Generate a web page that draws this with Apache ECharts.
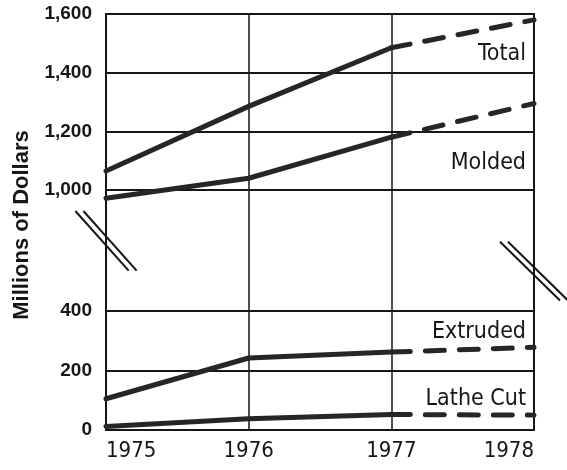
<!DOCTYPE html>
<html>
<head>
<meta charset="utf-8">
<script src="https://cdn.jsdelivr.net/npm/echarts@6/dist/echarts.min.js"></script>
<style>
  html, body { margin: 0; padding: 0; background: #ffffff; }
  #chart { width: 567px; height: 470px; }
</style>
</head>
<body>
<div id="chart"></div>
<script>
// ---- data ----
const years = ['1975', '1976', '1977', '1978'];
const totalVals = [1065, 1285, 1485, 1580];
const moldedVals = [972, 1040, 1180, 1295];
const extrudedVals = [105, 242, 262, 278];
const latheVals = [12, 38, 52, 50];
const topTicks = [1000, 1200, 1400, 1600];
const bottomTicks = [0, 200, 400];
const seriesNames = ['Total', 'Molded', 'Extruded', 'Lathe Cut'];
const yTitle = 'Millions of Dollars';
const lastActualIndex = 2; // 1977: solid up to here, dashed beyond

// ---- layout / style ----
const INK = '#161616';
const LINE = '#262626';
const gridL = 106, gridR = 33;
const COND = '"DejaVu Sans Condensed", "Liberation Sans", sans-serif';
const SANS = '"Liberation Sans", Arial, sans-serif';

function solidPart(v) { return v.map((x, i) => (i <= lastActualIndex ? x : null)); }
function dashPart(v) { return v.map((x, i) => (i >= lastActualIndex ? x : null)); }
function fmt(v) { return String(v).replace(/\B(?=(\d{3})+(?!\d))/g, ','); }

const chart = echarts.init(document.getElementById('chart'), null, { renderer: 'canvas' });

const gridBase = { left: gridL, right: gridR, show: true, borderColor: INK, borderWidth: 2, backgroundColor: 'transparent' };

function xAx(gi, showLabels) {
  return {
    type: 'category', gridIndex: gi, data: years, boundaryGap: false,
    axisLine: { show: false }, axisTick: { show: false },
    axisLabel: {
      show: showLabels, color: INK, fontFamily: COND, fontSize: 22, margin: 10,
      alignMinLabel: 'left', alignMaxLabel: 'right'
    },
    splitLine: { show: true, lineStyle: { color: INK, width: 1.5 } }
  };
}
function yAx(gi, ticks) {
  return {
    type: 'value', gridIndex: gi, min: ticks[0], max: ticks[ticks.length - 1],
    interval: ticks[1] - ticks[0],
    axisLine: { show: false }, axisTick: { show: false },
    axisLabel: { color: INK, fontFamily: SANS, fontWeight: 'bold', fontSize: 19, margin: 14, formatter: fmt },
    splitLine: { show: true, lineStyle: { color: INK, width: 2 } }
  };
}

function makeSeries(vals, gi) {
  const base = { type: 'line', xAxisIndex: gi, yAxisIndex: gi, symbol: 'none', silent: true, connectNulls: false, clip: false, z: 5 };
  return [
    Object.assign({}, base, { data: solidPart(vals), lineStyle: { color: LINE, width: 5, cap: 'round', join: 'round' } }),
    Object.assign({}, base, { data: dashPart(vals), lineStyle: { color: LINE, width: 5, type: [19, 15], cap: 'round' } })
  ];
}

const option = {
  animation: false,
  backgroundColor: '#ffffff',
  grid: [
    Object.assign({}, gridBase, { top: 14, height: 176 }),
    Object.assign({}, gridBase, { top: 190, height: 121 }),
    Object.assign({}, gridBase, { top: 311, height: 119 })
  ],
  xAxis: [xAx(0, false), xAx(1, false), xAx(2, true)],
  yAxis: [
    yAx(0, topTicks),
    { type: 'value', gridIndex: 1, min: 0, max: 1, show: false },
    yAx(2, bottomTicks)
  ],
  series: [].concat(
    makeSeries(totalVals, 0),
    makeSeries(moldedVals, 0),
    makeSeries(extrudedVals, 2),
    makeSeries(latheVals, 2)
  )
};
chart.setOption(option);

// ---- decorations anchored to the axes: series labels, axis break marks, y title ----
const labelAnchors = [ [0, 1465], [0, 1093], [2, 328], [2, 103] ];
const leftX = chart.convertToPixel({ gridIndex: 0 }, [years[0], topTicks[0]])[0];
const rightX = chart.convertToPixel({ gridIndex: 0 }, [years[years.length - 1], topTicks[0]])[0];
const gapTop = chart.convertToPixel({ gridIndex: 0 }, [years[0], topTicks[0]])[1];
const gapBot = chart.convertToPixel({ gridIndex: 2 }, [years[0], bottomTicks[bottomTicks.length - 1]])[1];

const graphics = [];
seriesNames.forEach((name, i) => {
  const a = labelAnchors[i];
  const y = chart.convertToPixel({ gridIndex: a[0] }, [years[0], a[1]])[1];
  graphics.push({
    type: 'text', x: rightX - 8, y: y, z: 10,
    style: { text: name, fill: INK, font: '23px ' + COND, align: 'right', verticalAlign: 'middle' }
  });
});

function breakMark(cx, cy, half, slope) {
  const len = Math.sqrt(1 + slope * slope);
  const dx = half / len, dy = half * slope / len;
  [-4, 4].forEach(off => {
    graphics.push({
      type: 'line', z: 10,
      shape: { x1: cx - dx + off, y1: cy - dy, x2: cx + dx + off, y2: cy + dy },
      style: { stroke: INK, lineWidth: 2 }
    });
  });
}
breakMark(leftX, gapTop + 0.42 * (gapBot - gapTop), 40, 1.12);
breakMark(rightX, gapTop + 0.67 * (gapBot - gapTop), 42, 0.98);

graphics.push({
  type: 'text', x: 22, y: 225, rotation: Math.PI / 2, z: 10,
  style: { text: yTitle, fill: INK, font: 'bold 22px ' + SANS, align: 'center', verticalAlign: 'middle' }
});

chart.setOption({ graphic: graphics });
</script>
</body>
</html>
